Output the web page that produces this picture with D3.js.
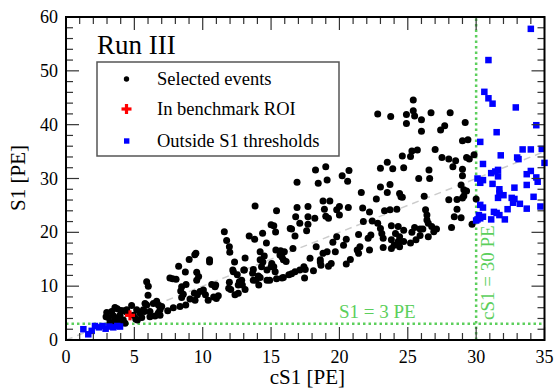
<!DOCTYPE html>
<html>
<head>
<meta charset="utf-8">
<script src="https://cdn.jsdelivr.net/npm/d3@7"></script>
<style>
  html, body { margin: 0; padding: 0; background: #fff; }
  svg { display: block; }
  text { font-family: "Liberation Serif", "Times New Roman", serif; }
</style>
</head>
<body>
<svg id="chart" width="555" height="390"></svg>
<script>
// Selected events: [cS1, S1] in PE
const selectedEvents = [
  [2.98,5.1],[2.93,4.3],[3.1,4.2],[3.22,3.3],[3.34,5.3],[3.46,4.5],[3.46,3.1],[3.58,6.05],[3.58,3.7],[3.75,5.8],
  [3.83,4.2],[3.83,3.1],[3.95,4.6],[4.0,5.5],[4.19,5.45],[4.19,3.7],[4.32,3.1],[4.44,5.2],[4.44,5.6],[4.8,6.4],
  [4.93,4.6],[5.1,3.9],[5.17,5.6],[5.22,3.7],[5.41,4.95],[5.54,4.2],[5.66,5.6],[5.73,5.3],[5.78,6.8],[5.9,6.5],
  [5.9,10.8],[6.02,10.0],[6.0,8.3],[6.14,5.3],[6.14,4.3],[6.39,6.8],[6.51,4.46],[6.63,7.2],[6.76,6.5],[6.88,5.6],
  [6.88,4.6],[6.76,5.07],[7.0,6.2],[7.44,5.45],[7.85,6.0],[8.34,6.2],[8.76,6.5],[7.6,11.5],[7.8,11.4],[8.05,11.3],
  [8.24,13.7],[8.73,12.65],[8.46,9.9],[8.39,9.1],[8.58,8.5],[8.46,7.9],[9.01,14.95],[9.42,15.85],[9.56,12.6],[9.56,11.1],
  [9.61,8.4],[9.07,7.6],[9.44,7.4],[8.78,10.3],[9.39,8.7],[9.7,11.8],[9.5,16.1],[9.8,9.0],[10.05,9.3],[10.2,8.4],
  [10.4,7.4],[10.5,14.5],[10.5,14.9],[10.66,10.3],[10.8,8.0],[10.9,9.9],[10.95,10.2],[11.14,8.2],[11.0,7.7],[11.58,20.1],
  [11.75,18.5],[11.95,17.3],[11.98,16.3],[11.95,10.75],[12.05,9.4],[11.9,9.6],[12.36,8.4],[12.24,12.7],[12.33,14.5],[12.53,12.1],
  [12.2,13.0],[12.68,10.8],[12.6,10.2],[12.6,8.7],[12.9,10.2],[12.85,11.1],[13.0,13.0],[13.1,9.4],[13.05,13.0],[13.1,15.25],
  [13.4,19.3],[13.83,24.9],[13.65,12.4],[13.7,13.1],[13.7,11.1],[13.8,18.7],[13.9,11.1],[14.07,11.9],[14.1,10.2],[14.2,11.6],
  [14.2,16.4],[14.2,14.9],[14.3,13.6],[14.38,19.85],[14.4,14.5],[14.5,15.6],[14.66,18.0],[14.7,13.0],[14.7,11.1],[14.9,11.1],
  [15.05,14.2],[15.0,21.4],[15.0,13.6],[15.2,21.2],[15.2,13.6],[15.35,16.7],[15.33,20.05],[15.3,12.7],[15.4,24.0],[15.4,11.4],
  [15.65,15.8],[15.7,16.6],[15.8,11.5],[15.8,15.4],[15.9,14.9],[15.9,11.6],[15.97,16.4],[16.1,14.6],[16.3,12.1],[16.4,20.7],
  [16.5,20.6],[16.5,12.3],[16.6,17.0],[16.75,19.3],[16.75,12.7],[16.8,22.9],[16.9,24.6],[16.9,29.3],[17.1,21.7],[17.1,13.0],
  [17.4,13.6],[17.45,11.5],[17.5,13.1],[17.6,20.3],[17.7,24.8],[17.7,22.9],[17.7,21.5],[17.85,15.2],[18.1,12.85],[18.2,22.6],
  [18.25,31.6],[18.3,17.3],[18.45,29.1],[18.6,14.9],[18.6,14.5],[18.65,13.9],[18.8,25.8],[18.8,16.1],[18.9,24.3],[19.0,23.0],
  [19.0,32.2],[19.1,29.7],[19.1,16.4],[19.2,22.6],[19.2,13.7],[19.3,25.8],[19.4,14.2],[19.52,18.15],[19.7,16.4],[19.8,19.2],
  [19.8,24.2],[20.0,24.8],[20.0,23.2],[20.2,30.5],[20.3,17.6],[20.5,18.7],[20.5,14.1],[20.6,29.5],[20.65,24.6],[20.7,31.5],
  [20.8,14.95],[21.3,16.7],[21.4,19.6],[21.4,16.1],[21.5,17.3],[21.6,27.4],[21.7,24.5],[21.75,22.0],[22.1,18.9],[22.2,23.8],
  [22.2,16.7],[22.3,19.5],[22.4,22.1],[22.7,26.2],[22.8,42.0],[22.8,21.7],[23.0,31.9],[23.0,28.4],[23.0,20.7],[23.1,19.8],
  [23.2,18.9],[23.2,17.2],[23.3,24.0],[23.5,33.0],[23.5,27.4],[23.7,28.9],[23.7,24.2],[23.75,41.5],[23.8,21.2],[23.8,18.6],
  [23.8,17.0],[23.9,31.8],[24.0,17.6],[24.1,19.8],[24.2,24.3],[24.3,21.1],[24.3,18.3],[24.4,27.2],[24.4,19.2],[24.4,17.3],
  [24.5,26.6],[24.6,34.2],[24.6,26.5],[24.7,32.0],[24.7,20.4],[24.7,18.3],[24.9,41.9],[24.9,40.2],[25.2,34.1],[25.2,18.0],
  [25.3,35.1],[25.3,20.0],[25.4,44.6],[25.4,42.6],[25.5,41.6],[25.5,20.9],[25.6,18.6],[25.7,35.3],[25.8,30.0],[25.9,20.6],
  [25.9,19.4],[26.0,40.9],[26.0,38.8],[26.1,20.6],[26.2,26.7],[26.3,24.2],[26.4,23.2],[26.4,22.3],[26.5,21.7],[26.5,19.2],
  [26.55,31.6],[26.6,30.0],[26.7,42.2],[26.75,21.1],[26.9,20.1],[27.0,35.4],[27.1,20.6],[27.4,39.0],[27.5,33.9],[27.7,39.8],
  [28.0,33.6],[28.0,26.05],[28.1,42.2],[28.2,20.9],[28.3,32.2],[28.4,22.9],[28.5,33.3],[28.6,26.1],[28.6,24.3],[28.9,28.8],
  [28.9,22.7],[29.0,37.0],[29.0,31.7],[29.0,30.5],[29.0,26.4],[29.1,27.9],[29.1,26.75],[29.2,40.4],[29.3,33.9],[29.3,27.7],
  [29.4,37.2],[29.5,33.6],[29.7,21.5],[29.85,34.4],[30.0,26.2]
];

// Event inside the benchmark region of interest
const roiEvents = [[4.68, 4.58]];

// Events failing the S1 thresholds
const outsideEvents = [
  [1.27,2.0],[1.63,1.06],[1.88,1.7],[2.12,2.6],[2.41,2.35],[2.68,2.6],[2.9,2.1],[3.17,2.5],[3.46,2.35],[3.75,2.6],[3.95,2.5],
  [34.0,57.8],[30.9,52.0],[30.6,46.1],[30.9,44.9],[31.2,43.9],[32.9,43.2],[34.4,39.9],[31.5,38.6],[30.3,36.8],[33.4,35.4],
  [34.0,35.4],[34.8,35.5],[35.0,32.9],[31.8,34.3],[33.0,33.9],[33.1,33.6],[30.5,32.7],[31.6,31.6],[31.4,31.3],[31.1,31.0],
  [34.0,31.4],[33.7,30.8],[34.4,30.2],[31.6,30.4],[30.1,30.0],[30.5,29.7],[30.3,29.2],[34.5,29.4],[31.2,29.0],[33.7,28.8],
  [32.8,28.3],[31.7,28.0],[31.7,27.2],[32.0,26.9],[31.6,26.4],[34.2,26.6],[32.6,26.4],[32.8,26.2],[32.7,25.5],[33.2,25.3],
  [34.7,24.8],[33.7,24.4],[30.3,25.1],[30.5,24.6],[32.3,24.3],[31.3,23.8],[31.5,23.6],[31.7,23.2],[30.2,23.2],[30.5,22.9],
  [30.1,22.4],[30.3,22.6],[31.1,22.4],[32.1,22.4],[30.0,22.2]
];

const xDomain = [0, 35];
const yDomain = [0, 60];
const xTicks = [0, 5, 10, 15, 20, 25, 30, 35];
const yTicks = [0, 10, 20, 30, 40, 50, 60];
const s1Threshold = 3;    // S1 lower cut, PE
const cs1Threshold = 30;  // cS1 upper cut, PE

const legendLabels = ["Selected events", "In benchmark ROI", "Outside S1 thresholds"];

const svg = d3.select("#chart");
const plotLeft = 66, plotRight = 544.5, plotTop = 17, plotBottom = 340;

const x = d3.scaleLinear().domain(xDomain).range([plotLeft, plotRight]);
const y = d3.scaleLinear().domain(yDomain).range([plotBottom, plotTop]);

const green = "#5ccf5c";

// Reference line S1 = cS1
svg.append("line")
  .attr("x1", x(0)).attr("y1", y(0))
  .attr("x2", x(35)).attr("y2", y(35))
  .attr("stroke", "#cccccc").attr("stroke-width", 1.5)
  .attr("stroke-dasharray", "7,5");

// Threshold lines
svg.append("line")
  .attr("x1", x(0)).attr("x2", x(35))
  .attr("y1", y(s1Threshold)).attr("y2", y(s1Threshold))
  .attr("stroke", green).attr("stroke-width", 2.5)
  .attr("stroke-dasharray", "2.5,3");
svg.append("line")
  .attr("x1", x(cs1Threshold)).attr("x2", x(cs1Threshold))
  .attr("y1", y(0)).attr("y2", y(60))
  .attr("stroke", green).attr("stroke-width", 2.5)
  .attr("stroke-dasharray", "2.5,3");

svg.append("text")
  .attr("x", 339).attr("y", y(s1Threshold) - 6)
  .attr("font-size", 19).attr("fill", green)
  .text("S1 = 3 PE");
svg.append("text")
  .attr("transform", `translate(${x(cs1Threshold) + 18},${y(0) - 20}) rotate(-90)`)
  .attr("font-size", 19).attr("fill", green)
  .text("cS1 = 30 PE");

// Markers
const pts = svg.append("g");
pts.selectAll("circle.sel").data(selectedEvents).enter().append("circle")
  .attr("class", "sel")
  .attr("cx", d => x(d[0])).attr("cy", d => y(d[1]))
  .attr("r", 3.5).attr("fill", "#000");

pts.selectAll("rect.out").data(outsideEvents).enter().append("rect")
  .attr("class", "out")
  .attr("x", d => x(d[0]) - 3.25).attr("y", d => y(d[1]) - 3.25)
  .attr("width", 6.5).attr("height", 6.5).attr("fill", "#0000ff");

const cross = (g, cx, cy) => {
  g.append("rect").attr("x", cx - 5).attr("y", cy - 1.6).attr("width", 10).attr("height", 3.2).attr("fill", "#ff0000");
  g.append("rect").attr("x", cx - 1.6).attr("y", cy - 5).attr("width", 3.2).attr("height", 10).attr("fill", "#ff0000");
};
roiEvents.forEach(d => cross(pts, x(d[0]), y(d[1])));

// Frame and ticks (inside, on all four sides)
const axes = svg.append("g");
const major = 13, minor = 7;
const xMinor = d3.range(0, 36, 1);
const yMinor = d3.range(0, 61, 2);
const tickCol = "#333";

xMinor.forEach(v => {
  const len = v % 5 === 0 ? major : minor;
  axes.append("line").attr("x1", x(v)).attr("x2", x(v)).attr("y1", plotBottom).attr("y2", plotBottom - len)
    .attr("stroke", tickCol).attr("stroke-width", 1.2);
  axes.append("line").attr("x1", x(v)).attr("x2", x(v)).attr("y1", plotTop).attr("y2", plotTop + len)
    .attr("stroke", tickCol).attr("stroke-width", 1.2);
});
yMinor.forEach(v => {
  const len = v % 10 === 0 ? major : minor;
  axes.append("line").attr("y1", y(v)).attr("y2", y(v)).attr("x1", plotLeft).attr("x2", plotLeft + len)
    .attr("stroke", tickCol).attr("stroke-width", 1.2);
  axes.append("line").attr("y1", y(v)).attr("y2", y(v)).attr("x1", plotRight).attr("x2", plotRight - len)
    .attr("stroke", tickCol).attr("stroke-width", 1.2);
});

axes.append("rect")
  .attr("x", plotLeft).attr("y", plotTop)
  .attr("width", plotRight - plotLeft).attr("height", plotBottom - plotTop)
  .attr("fill", "none").attr("stroke", "#000").attr("stroke-width", 2);

// Tick labels
axes.selectAll("text.xt").data(xTicks).enter().append("text")
  .attr("class", "xt")
  .attr("x", d => x(d)).attr("y", 363)
  .attr("text-anchor", "middle").attr("font-size", 18)
  .text(d => d);
axes.selectAll("text.yt").data(yTicks).enter().append("text")
  .attr("class", "yt")
  .attr("x", 58).attr("y", d => y(d) + 6)
  .attr("text-anchor", "end").attr("font-size", 18)
  .text(d => d);

// Axis titles
svg.append("text")
  .attr("x", 345).attr("y", 384)
  .attr("text-anchor", "end").attr("font-size", 21)
  .text("cS1 [PE]");
svg.append("text")
  .attr("transform", "translate(25,145) rotate(-90)")
  .attr("text-anchor", "end").attr("font-size", 21)
  .text("S1 [PE]");

// Run label
svg.append("text")
  .attr("x", 97).attr("y", 54)
  .attr("font-size", 27)
  .text("Run III");

// Legend
const lg = svg.append("g");
lg.append("rect")
  .attr("x", 97).attr("y", 62).attr("width", 242).attr("height", 94)
  .attr("fill", "#fff").attr("stroke", "#555").attr("stroke-width", 1.5);
const rowY = [79, 109, 141];
lg.append("circle").attr("cx", 126.5).attr("cy", rowY[0]).attr("r", 2.7).attr("fill", "#000");
cross(lg, 126.5, rowY[1]);
lg.append("rect").attr("x", 124).attr("y", rowY[2] - 2.7).attr("width", 5.4).attr("height", 5.4).attr("fill", "#0000ff");
legendLabels.forEach((t, i) => {
  lg.append("text").attr("x", 157).attr("y", rowY[i] + 6)
    .attr("font-size", 18.5).text(t);
});
</script>
</body>
</html>
